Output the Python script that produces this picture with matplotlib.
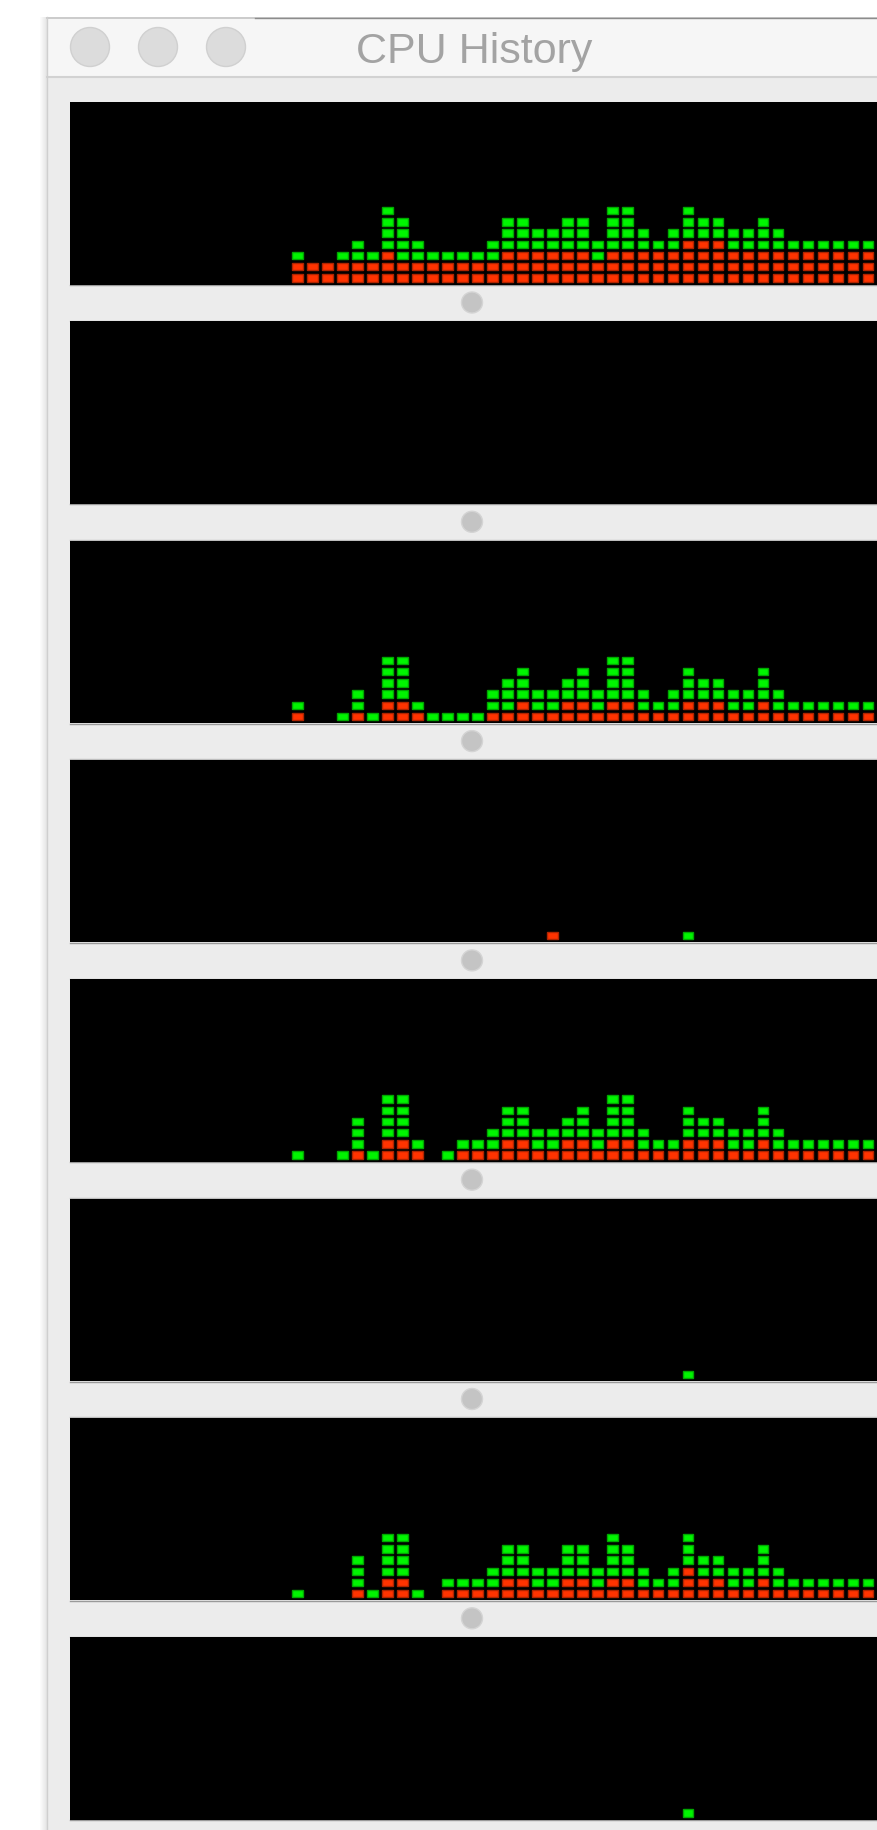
import numpy as np
import matplotlib
matplotlib.use("Agg")
import matplotlib.pyplot as plt
from matplotlib.patches import Rectangle, Circle

# ---------------- data (LED cells per history column) ----------------
columns = list(range(39))

# core panels 1,3,5,7 : red = system, green = user (number of lit cells)
p1_red   = [2,2,2,2,2,2,3,2,2,2,2,2,2,2,3,3,3,3,3,3,2,3,3,3,3,3,4,4,4,3,3,3,3,3,3,3,3,3,3]
p1_green = [1,0,0,1,2,1,4,4,2,1,1,1,1,2,3,3,2,2,3,3,2,4,4,2,1,2,3,2,2,2,2,3,2,1,1,1,1,1,1]

p3_red   = [1,0,0,0,1,0,2,2,1,0,0,0,0,1,1,2,1,1,2,2,1,2,2,1,1,1,2,2,2,1,1,2,1,1,1,1,1,1,1]
p3_green = [1,0,0,1,2,1,4,4,1,1,1,1,1,2,3,3,2,2,2,3,2,4,4,2,1,2,3,2,2,2,2,3,2,1,1,1,1,1,1]

p5_red   = [0,0,0,0,1,0,2,2,1,0,0,1,1,1,2,2,1,1,2,2,1,2,2,1,1,1,2,2,2,1,1,2,1,1,1,1,1,1,1]
p5_green = [1,0,0,1,3,1,4,4,1,0,1,1,1,2,3,3,2,2,2,3,2,4,4,2,1,1,3,2,2,2,2,3,2,1,1,1,1,1,1]

p7_red   = [0,0,0,0,1,0,2,2,0,0,1,1,1,1,2,2,1,1,2,2,1,2,2,1,1,1,3,2,2,1,1,2,1,1,1,1,1,1,1]
p7_green = [1,0,0,0,3,1,4,4,1,0,1,1,1,2,3,3,2,2,3,3,2,4,3,2,1,2,3,2,2,2,2,3,2,1,1,1,1,1,1]

# nearly idle panels 2,4,6,8 : sparse lit cells
p2_red   = [0]*39
p2_green = [0]*39
p4_red   = [1 if c == 17 else 0 for c in columns]
p4_green = [1 if c == 26 else 0 for c in columns]
p6_red   = [0]*39
p6_green = [1 if c == 26 else 0 for c in columns]
p8_red   = [0]*39
p8_green = [1 if c == 26 else 0 for c in columns]

panels = [(p1_red, p1_green), (p2_red, p2_green), (p3_red, p3_green), (p4_red, p4_green),
          (p5_red, p5_green), (p6_red, p6_green), (p7_red, p7_green), (p8_red, p8_green)]

title = "CPU History"

# ---------------- figure ----------------
W, H = 877, 1830
fig = plt.figure(figsize=(W / 100, H / 100), dpi=100)
fig.patch.set_facecolor("white")

# background / window chrome in pixel coords
bg = fig.add_axes([0, 0, 1, 1])
bg.set_xlim(0, W)
bg.set_ylim(H, 0)
bg.axis("off")

# soft shadow left of the window
for i, a in enumerate(np.linspace(0.10, 0.0, 8)):
    bg.add_patch(Rectangle((46 - i, 17), 1, H, facecolor="black", alpha=a, lw=0))
bg.add_patch(Rectangle((47, 17), W - 47, H, facecolor="#ececec", edgecolor="none"))
bg.add_patch(Rectangle((47, 17), W - 47, 60, facecolor="#f6f6f6", edgecolor="none"))
bg.plot([47, W], [17.5, 17.5], color="#c4c4c4", lw=1.2)
bg.plot([255, W], [17.5, 17.5], color="#8c8c8c", lw=1.0)
bg.plot([47, W], [77, 77], color="#d2d2d2", lw=1.5)
bg.plot([46.5, 46.5], [17, H], color="#cfcfcf", lw=1.0)

for cx in (90, 158, 226):
    bg.add_patch(Circle((cx, 47), 19.5, facecolor="#dcdcdc", edgecolor="#d0d0d0", lw=1))

bg.text(474, 52, title, ha="center", va="center", fontsize=31,
        family=["Liberation Sans", "DejaVu Sans"], color="#a3a3a3")

# panel geometry
top0, pitch, ph = 102.0, 219.3, 182.5
left_px = 70.0
col0_px, col_pitch = 297.3, 15.02
row_pitch = 11.2

red_c, red_e = "#ff3300", "#b02400"
grn_c, grn_e = "#00f500", "#00a800"

for i, (reds, greens) in enumerate(panels):
    top = top0 + pitch * i
    bottom = top + ph
    ax = fig.add_axes([left_px / W, 1 - bottom / H, (W - left_px) / W, ph / H])
    ax.set_facecolor("black")
    ax.set_xlim((left_px - col0_px) / col_pitch, (W - col0_px) / col_pitch)
    ax.set_ylim(0, ph / row_pitch)
    ax.set_xticks([])
    ax.set_yticks([])
    for s in ax.spines.values():
        s.set_visible(False)

    reds = np.array(reds)
    greens = np.array(greens)
    cols = np.array(columns)
    total = reds + greens
    for lvl in range(int(total.max()) if total.max() > 0 else 0):
        m_r = reds > lvl
        m_g = (~m_r) & (total > lvl)
        if m_r.any():
            ax.bar(cols[m_r], 0.66, bottom=lvl + 0.26, width=0.7,
                   color=red_c, edgecolor=red_e, linewidth=1.0, align="center")
        if m_g.any():
            ax.bar(cols[m_g], 0.66, bottom=lvl + 0.26, width=0.7,
                   color=grn_c, edgecolor=grn_e, linewidth=1.0, align="center")

    # separator line under panel and scroll dot
    bg.plot([left_px, W], [bottom + 0.5, bottom + 0.5], color="#9a9a9a", lw=1.0)
    if i < 7:
        dot_y = bottom + 18
        bg.add_patch(Circle((472, dot_y), 10.5, facecolor="#c4c4c4", edgecolor="#d4d4d4", lw=1))
        bg.plot([left_px, W], [top + pitch - 0.5, top + pitch - 0.5], color="#bdbdbd", lw=1.0)

fig.savefig("out.png", dpi=100, facecolor=fig.get_facecolor())
